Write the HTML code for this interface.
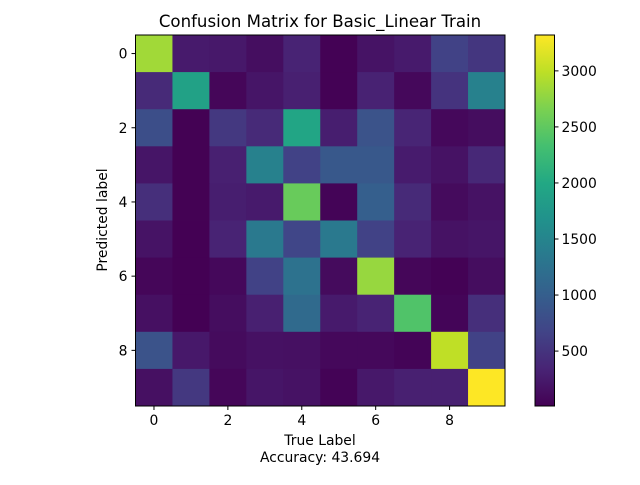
<!DOCTYPE html>
<html><head><meta charset="utf-8"><style>
body{margin:0;background:#fff;font-family:"Liberation Sans","DejaVu Sans",sans-serif;}
svg text{font-family:"DejaVu Sans","Liberation Sans",sans-serif;}
</style></head><body>
<svg id="chart" width="640" height="480" xmlns="http://www.w3.org/2000/svg">
<defs><linearGradient id="vg" x1="0" y1="1" x2="0" y2="0"></linearGradient></defs>
<text x="320" y="27" text-anchor="middle" font-size="16.6">Confusion Matrix for Basic_Linear Train</text>
<g id="cells"></g>
<g id="axes"></g>
<text x="320" y="445" text-anchor="middle" font-size="13.9">True Label</text>
<text x="320" y="462" text-anchor="middle" font-size="13.9">Accuracy: 43.694</text>
<text transform="translate(107,220) rotate(-90)" text-anchor="middle" font-size="13.9">Predicted label</text>
</svg>
<script>
const categories = [0,1,2,3,4,5,6,7,8,9];
const matrix = [
[2850,250,230,130,330,20,180,250,650,530],
[400,1900,60,200,300,20,320,80,500,1450],
[800,15,550,400,1950,280,850,350,80,120],
[200,15,300,1450,650,920,920,260,170,380],
[450,15,280,250,2550,40,1000,400,100,170],
[180,10,330,1350,700,1350,650,330,170,200],
[60,10,80,650,1250,100,2800,60,20,120],
[150,10,120,300,1150,250,330,2400,50,450],
[850,230,100,160,150,80,80,40,3000,650],
[150,550,60,200,170,30,230,300,300,3320]
];
const axisTicks = [0,2,4,6,8];
const cbarTicks = [500,1000,1500,2000,2500,3000];
const vmin = 10, vmax = 3320;

const NS="http://www.w3.org/2000/svg";
const V=[[68,1,84],[72,36,117],[65,68,135],[53,95,141],[42,120,142],[33,145,140],[34,168,132],[68,191,112],[122,209,81],[189,223,38],[253,231,37]];
function viridis(t){t=Math.max(0,Math.min(1,t));const p=t*10,i=Math.min(9,Math.floor(p)),f=p-i;const a=V[i],b=V[i+1];return `rgb(${Math.round(a[0]+(b[0]-a[0])*f)},${Math.round(a[1]+(b[1]-a[1])*f)},${Math.round(a[2]+(b[2]-a[2])*f)})`;}
const L=135.5,T=35,W=369.5,H=371;
const n=categories.length, cw=W/n, ch=H/n;
const xPos=c=>L+(c+0.5)*cw, yPos=r=>T+(r+0.5)*ch;
const norm=v=>(v-vmin)/(vmax-vmin);
const cells=document.getElementById('cells');
matrix.forEach((row,r)=>row.forEach((v,c)=>{
 const e=document.createElementNS(NS,'rect');
 e.setAttribute('x',xPos(c)-cw/2);e.setAttribute('y',yPos(r)-ch/2);
 e.setAttribute('width',cw+0.5);e.setAttribute('height',ch+0.5);
 e.setAttribute('fill',viridis(norm(v)));
 
 
 cells.appendChild(e);
}));
const ax=document.getElementById('axes');
function add(tag,attrs,text){const e=document.createElementNS(NS,tag);for(const k in attrs)e.setAttribute(k,attrs[k]);if(text!==undefined)e.textContent=text;ax.appendChild(e);return e;}
const frame=add('rect',{x:L,y:T,width:W,height:H,fill:'none',stroke:'#000','stroke-width':1});


axisTicks.forEach(t=>{
 add('line',{x1:xPos(t),x2:xPos(t),y1:T+H,y2:T+H+4,stroke:'#000'});
 const tx=add('text',{x:xPos(t),y:T+H+19,'text-anchor':'middle','font-size':13.9},t);
 
 
 add('line',{x1:L-4,x2:L,y1:yPos(t),y2:yPos(t),stroke:'#000'});
 const ty=add('text',{x:L-8,y:yPos(t)+5,'text-anchor':'end','font-size':13.9},t);
 
 
});
const CX=535,CW=19.5;
const cy=v=>T+H-norm(v)*H;
const g=document.getElementById('vg');
for(let i=0;i<=10;i++){const s=document.createElementNS(NS,'stop');s.setAttribute('offset',i/10);s.setAttribute('stop-color',viridis(i/10));g.appendChild(s);}
const cb=add('rect',{x:CX,y:T,width:CW,height:H,fill:'url(#vg)',stroke:'#000','stroke-width':1});


cbarTicks.forEach(t=>{
 add('line',{x1:CX+CW,x2:CX+CW+4,y1:cy(t),y2:cy(t),stroke:'#000'});
 const e=add('text',{x:CX+CW+7,y:cy(t)+5,'font-size':13.9},t);
 
 
});
</script>
</body></html>
